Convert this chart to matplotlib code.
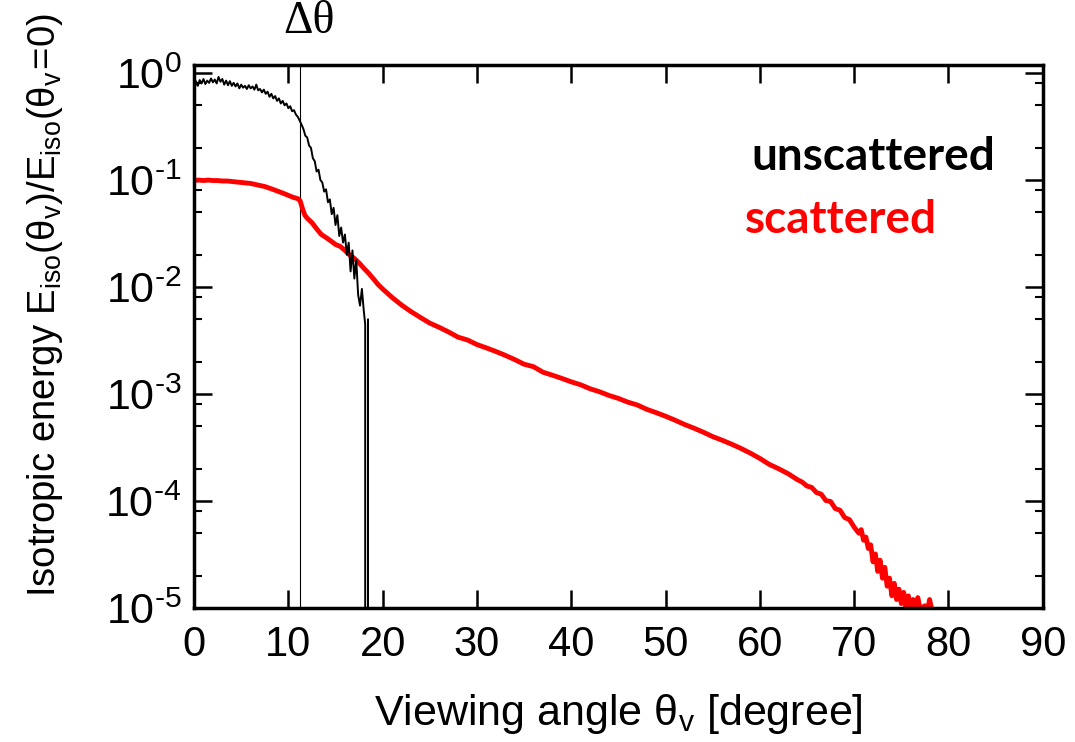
import numpy as np
import matplotlib
matplotlib.use("Agg")
import matplotlib.pyplot as plt
from matplotlib.ticker import LogLocator, NullFormatter, NullLocator

plt.rcParams['font.family'] = ['Liberation Sans', 'DejaVu Sans']
plt.rcParams['mathtext.fontset'] = 'custom'
plt.rcParams['mathtext.rm'] = 'Liberation Sans'
plt.rcParams['mathtext.it'] = 'Liberation Sans'
plt.rcParams['mathtext.bf'] = 'Liberation Sans:bold'

# unscattered (black) component
x_unsc = [0.0, 0.2, 0.4, 0.6, 0.8, 1.0, 1.2, 1.4, 1.6, 1.8, 2.0, 2.2, 2.4, 2.6,
          2.8, 3.0, 3.2, 3.4, 3.6, 3.8, 4.0, 4.2, 4.4, 4.6, 4.8, 5.0, 5.2, 5.4,
          5.6, 5.8, 6.0, 6.2, 6.4, 6.6, 6.8, 7.0, 7.2, 7.4, 7.6, 7.8, 8.0, 8.2,
          8.4, 8.6, 8.8, 9.0, 9.2, 9.4, 9.6, 9.8, 10.0, 10.2, 10.4, 10.6, 10.8,
          11.0, 11.2, 11.4, 11.6, 11.8, 12.0, 12.2, 12.4, 12.6, 12.8, 13.0, 13.2,
          13.4, 13.6, 13.8, 14.0, 14.2, 14.4, 14.6, 14.8, 15.0, 15.2, 15.4, 15.6,
          15.8, 16.0, 16.2, 16.4, 16.6, 16.8, 17.0, 17.2, 17.4, 17.6, 17.8, 18.0,
          18.15, 18.3, 18.45, 18.55]
e_unsc = [0.66, 0.84, 0.76, 0.86, 0.80, 0.88, 0.79, 0.85, 0.81, 0.89, 0.82, 0.87,
          0.80, 0.92, 0.83, 0.88, 0.78, 0.85, 0.77, 0.84, 0.76, 0.81, 0.75, 0.80,
          0.72, 0.78, 0.73, 0.76, 0.71, 0.77, 0.72, 0.75, 0.70, 0.78, 0.69, 0.71,
          0.66, 0.70, 0.64, 0.67, 0.60, 0.64, 0.58, 0.61, 0.55, 0.58, 0.52, 0.55,
          0.50, 0.52, 0.47, 0.49, 0.44, 0.45, 0.41, 0.39, 0.36, 0.33, 0.30, 0.26,
          0.25, 0.21, 0.20, 0.16, 0.15, 0.12, 0.125, 0.10, 0.095, 0.078, 0.082,
          0.062, 0.066, 0.048, 0.055, 0.038, 0.047, 0.030, 0.036, 0.026, 0.031,
          0.020, 0.026, 0.014, 0.022, 0.012, 0.018, 0.0085, 0.0067, 0.0096,
          0.0060, 0.0045, 0.0, 0.005, 0.0]

# scattered (red) component
x_sc = [0.0, 0.5, 1.0, 1.5, 2.0, 2.5, 3.0, 3.5, 4.0, 4.5, 5.0, 5.5, 6.0, 6.5,
        7.0, 7.5, 8.0, 8.5, 9.0, 9.5, 10.0, 10.5, 11.0, 11.25, 11.5, 11.75,
        12.0, 12.5, 13.0, 13.5, 14.0, 14.5, 15.0, 15.5, 16.0, 16.5, 17.0, 17.5,
        18.0, 18.5, 19.0, 19.5, 20.0, 21.0, 22.0, 23.0, 24.0, 25.0, 26.0, 27.0,
        28.0, 29.0, 30.0, 31.0, 32.0, 33.0, 34.0, 35.0, 36.0, 37.0, 38.0, 39.0,
        40.0, 41.0, 42.0, 43.0, 44.0, 45.0, 46.0, 47.0, 48.0, 49.0, 50.0, 51.0,
        52.0, 53.0, 54.0, 55.0, 56.0, 57.0, 58.0, 59.0, 60.0, 61.0, 62.0, 63.0,
        64.0, 64.5, 65.0, 65.5, 66.0, 66.5, 67.0, 67.5, 68.0, 68.5, 69.0, 69.5,
        70.0, 70.5, 70.75, 71.0, 71.25, 71.5, 71.75, 72.0, 72.25, 72.5, 72.75,
        73.0, 73.25, 73.5, 73.75, 74.0, 74.25, 74.5, 74.75, 75.0, 75.25, 75.5,
        75.75, 76.0, 76.25, 76.5, 76.75, 77.0, 77.5, 77.75, 78.0, 78.25]
e_sc = [0.099, 0.100, 0.099, 0.100, 0.099, 0.099, 0.098, 0.098, 0.097, 0.096,
        0.095, 0.094, 0.093, 0.091, 0.089, 0.087, 0.084, 0.081, 0.078, 0.075,
        0.072, 0.069, 0.067, 0.064, 0.054, 0.047, 0.044, 0.040, 0.035, 0.031,
        0.029, 0.027, 0.025, 0.024, 0.022, 0.020, 0.0185, 0.0168, 0.0150,
        0.0135, 0.0120, 0.0106, 0.0096, 0.0080, 0.0068, 0.0059, 0.0052, 0.0046,
        0.0042, 0.0038, 0.0034, 0.0032, 0.0029, 0.0027, 0.0025, 0.0023, 0.0021,
        0.0019, 0.0018, 0.0016, 0.0015, 0.0014, 0.0013, 0.00122, 0.00112,
        0.00105, 0.00097, 0.00091, 0.00084, 0.00079, 0.00072, 0.00067, 0.00062,
        0.00057, 0.00052, 0.00048, 0.00044, 0.00040, 0.00037, 0.00034, 0.00031,
        0.00028, 0.00025, 0.00022, 0.00020, 0.00018, 0.000158, 0.000150,
        0.000138, 0.000134, 0.000120, 0.000116, 0.000101, 0.000099, 0.000085,
        0.000082, 0.000070, 0.000067, 0.000057, 0.000050, 0.000054, 0.000043,
        0.000046, 0.000036, 0.000039, 0.000027, 0.000032, 0.000022, 0.000028,
        0.000019, 0.000024, 0.000016, 0.000019, 0.000013, 0.000017, 0.000012,
        0.000015, 0.000011, 0.000014, 0.0000098, 0.000013, 0.0000095, 0.000012,
        0.0000098, 0.0000125, 0.0000098, 0.0000105, 0.0000092, 0.0000120,
        0.0000095]

delta_theta = 11.2
xticks = [0, 10, 20, 30, 40, 50, 60, 70, 80, 90]
yticks = [1e-5, 1e-4, 1e-3, 1e-2, 1e-1, 1e0]
ytick_labels = [r'$\mathregular{10^{\text{-5}}}$', r'$\mathregular{10^{\text{-4}}}$',
                r'$\mathregular{10^{\text{-3}}}$', r'$\mathregular{10^{\text{-2}}}$',
                r'$\mathregular{10^{\text{-1}}}$', r'$\mathregular{10^{0}}$']

fig = plt.figure(figsize=(10.75, 7.42), dpi=100)
ax = fig.add_axes([0.1805, 0.1806, 0.7895, 0.7318])

ax.axvline(delta_theta, color='black', lw=0.8)
ax.plot(x_sc, e_sc, color='#ff0000', lw=3.5)
ax.plot(x_unsc, e_unsc, color='black', lw=1.4)

ax.set_yscale('log', nonpositive='clip')
ax.set_xlim(0, 90)
ax.set_ylim(1e-5, 1.19)
ax.set_xticks(xticks)
ax.set_xticklabels([str(t) for t in xticks])
ax.xaxis.set_minor_locator(NullLocator())
ax.set_yticks(yticks)
ax.set_yticklabels(ytick_labels)
ax.yaxis.set_minor_locator(LogLocator(base=10, subs=[2, 5, 8]))
ax.yaxis.set_minor_formatter(NullFormatter())

ax.tick_params(which='both', direction='in', top=True, right=True)
ax.tick_params(which='major', length=13, width=1.8, labelsize=30, pad=12)
ax.tick_params(which='minor', length=6, width=1.5)
ax.tick_params(axis='y', which='major', pad=9, labelsize=31)
for s in ax.spines.values():
    s.set_linewidth(2.5)

fig.text(618 / 1075, 1 - 725 / 742, r'Viewing angle $\mathregular{\theta_v}$ [degree]',
         ha='center', va='baseline', fontsize=31)
fig.text(45 / 1075, 1 - 305 / 742,
         r'Isotropic energy $\mathregular{E_{iso}(\theta_v)/E_{iso}(\theta_v\!=\!0)}$',
         rotation=90, ha='center', va='center', fontsize=27.5)

fig.text(309 / 1075, 1 - 22 / 742, 'Δθ', ha='center', va='center',
         fontsize=33, family='Liberation Serif')
fig.text(995 / 1075, 1 - 170 / 742, 'unscattered', ha='right', va='baseline',
         fontsize=33, fontweight='bold', family='Lato', color='black')
fig.text(937 / 1075, 1 - 233 / 742, 'scattered', ha='right', va='baseline',
         fontsize=33, fontweight='bold', family='Lato', color='#ff0000')

plt.savefig('out.png', dpi=100)
plt.close()
